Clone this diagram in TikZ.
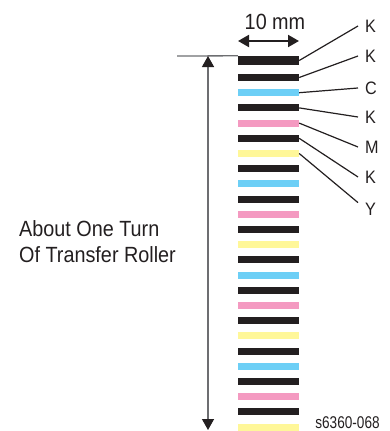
\documentclass[tikz,border=0pt]{standalone}
\usepackage{fontspec}
\setmainfont{Liberation Sans}[FakeStretch=0.9]
\newfontfamily\tagfont{Liberation Sans}[FakeStretch=0.8]
\usetikzlibrary{arrows.meta}
\definecolor{inkK}{HTML}{231F20}
\definecolor{inkC}{HTML}{6DCFF6}
\definecolor{inkM}{HTML}{F49AC1}
\definecolor{inkY}{HTML}{FFF799}
\definecolor{ruleGray}{HTML}{6D6E71}
\begin{document}
\begin{tikzpicture}
[x=1pt,y=-1pt,
  barDecorate/.style={shape=rectangle,inner sep=0pt,minimum width=61pt,minimum height=7pt,fill=#1},%
  labelDecorate/.style={anchor=west,inner xsep=7pt,inner ysep=0pt,text=inkK,font=\fontsize{18}{18}\selectfont},%
  lineDecorate/.style={-,line width=1.2pt,draw=inkK},%
  guideDecorate/.style={line width=1.3pt,draw=ruleGray},%
  tipDecorate/.style={{Triangle[length=11pt,width=12pt,color=inkK]}-{Triangle[length=11pt,width=12pt,color=inkK]}}]
\useasboundingbox (0,0) rectangle (390,431);
%% first band of the chart, a bit thicker
\node (bar0) at (268.5,60.5) [barDecorate=inkK,minimum height=9pt] {};
%% repeating bands K C K M K Y
\foreach \i/\c in {
  1/K, 2/C, 3/K, 4/M, 5/K, 6/Y, 7/K, 8/C, 9/K, 10/M, 11/K, 12/Y,
  13/K, 14/C, 15/K, 16/M, 17/K, 18/Y, 19/K, 20/C, 21/K, 22/M, 23/K, 24/Y}
{
  \node (bar\i) at (268.5,{77.5+(\i-1)*15.2}) [barDecorate=ink\c] {};
}
%% colour names
\foreach \nodename/\txt/\y in {
  lab1/K/26, lab2/K/56, lab3/C/88, lab4/K/117, lab5/M/147, lab6/K/177, lab7/Y/209}
{
  \node (\nodename) at (358,\y) [labelDecorate] {\txt};
}
%% leader lines
\path
\foreach \startnode/\endnode/\side in {
  bar0/lab1/west, bar1/lab2/west, bar2/lab3/west, bar3/lab4/west,
  bar4/lab5/west, bar5/lab6/west, bar6/lab7/north west}
{
  (\startnode.east) edge[lineDecorate] (\endnode.\side)
};
%% width of the band
\coordinate (dimL) at (238,41);
\coordinate (dimR) at (299,41);
\draw[tipDecorate,line width=2pt,draw=inkK] (dimL) -- (dimR);
\node (dimText) at (275,29) [anchor=base,inner sep=0pt,text=inkK,font=\fontsize{22}{22}\selectfont] {10 mm};
%% one turn of the roller
\coordinate (ruleStart) at (177,56);
\coordinate (rollTop) at (208,56);
\coordinate (rollEnd) at (208,430);
\draw[guideDecorate] (ruleStart) -- (bar0.north west);
\draw[guideDecorate,tipDecorate] (rollTop) -- (rollEnd);
\node (turnText) at (19,220.5) [anchor=north west,inner sep=0pt,align=left,text=inkK,
  font=\fontsize{22}{26}\selectfont] {About One Turn\\Of Transfer Roller};
\node (figTag) at (347.5,428.5) [anchor=base,inner sep=0pt,text=inkK,
  font=\tagfont\fontsize{17}{17}\selectfont] {s6360-068};
\end{tikzpicture}
\end{document}
